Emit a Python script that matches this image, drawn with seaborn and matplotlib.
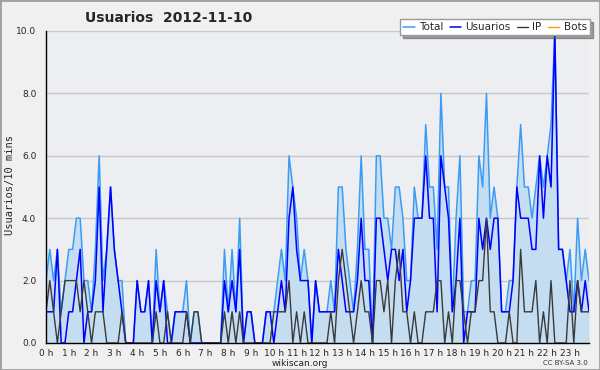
import numpy as np
import pandas as pd
import matplotlib
matplotlib.use("Agg")
import matplotlib.pyplot as plt
import matplotlib.ticker as mticker
from matplotlib.patches import Rectangle
import seaborn as sns

# 10-minute slots for 2012-11-10 (144 values per series)
usuarios = [1, 1, 1, 3, 0, 0, 1, 1, 2, 3, 0, 1,
            1, 2, 5, 1, 3, 5, 3, 2, 1, 0, 0, 0,
            2, 1, 1, 2, 0, 2, 1, 2, 0, 0, 1, 1,
            1, 1, 0, 0, 0, 0, 0, 0, 0, 0, 0, 2,
            1, 2, 1, 3, 0, 1, 1, 0, 0, 0, 1, 1,
            0, 1, 2, 1, 4, 5, 3, 2, 2, 2, 0, 2,
            1, 1, 1, 1, 1, 3, 2, 1, 1, 1, 2, 4,
            2, 2, 0, 4, 4, 3, 2, 3, 3, 2, 3, 1,
            2, 4, 4, 4, 6, 4, 4, 1, 6, 5, 4, 1,
            2, 4, 0, 1, 1, 1, 4, 3, 4, 3, 4, 4,
            1, 1, 1, 2, 5, 4, 4, 4, 3, 3, 6, 4,
            6, 5, 10, 3, 3, 2, 1, 1, 2, 1, 2, 1]
ip = [1, 2, 1, 0, 1, 2, 2, 2, 2, 1, 2, 1,
      0, 1, 1, 1, 0, 0, 0, 0, 1, 0, 0, 0,
      0, 0, 0, 0, 0, 1, 0, 0, 1, 0, 0, 0,
      0, 1, 0, 1, 1, 0, 0, 0, 0, 0, 0, 1,
      0, 1, 0, 1, 0, 0, 0, 0, 0, 0, 0, 0,
      1, 1, 1, 1, 2, 0, 1, 0, 1, 0, 0, 0,
      0, 0, 0, 1, 0, 2, 3, 2, 1, 0, 1, 2,
      1, 1, 0, 2, 2, 1, 2, 0, 2, 3, 1, 1,
      0, 1, 0, 0, 1, 1, 1, 2, 2, 0, 1, 0,
      2, 2, 1, 0, 1, 1, 2, 2, 4, 1, 1, 0,
      0, 0, 1, 0, 0, 3, 1, 1, 1, 2, 0, 1,
      0, 2, 0, 0, 0, 0, 2, 0, 2, 1, 1, 1]
total = [2, 3, 2, 3, 1, 2, 3, 3, 4, 4, 2, 2,
         1, 3, 6, 2, 3, 5, 3, 2, 2, 0, 0, 0,
         2, 1, 1, 2, 0, 3, 1, 2, 1, 0, 1, 1,
         1, 2, 0, 1, 1, 0, 0, 0, 0, 0, 0, 3,
         1, 3, 1, 4, 0, 1, 1, 0, 0, 0, 1, 1,
         1, 2, 3, 2, 6, 5, 4, 2, 3, 2, 0, 2,
         1, 1, 1, 2, 1, 5, 5, 3, 2, 1, 3, 6,
         3, 3, 0, 6, 6, 4, 4, 3, 5, 5, 4, 2,
         2, 5, 4, 4, 7, 5, 5, 3, 8, 5, 5, 1,
         4, 6, 1, 1, 2, 2, 6, 5, 8, 4, 5, 4,
         1, 1, 2, 2, 5, 7, 5, 5, 4, 5, 6, 5,
         6, 7, 10, 3, 3, 2, 3, 1, 4, 2, 3, 2]
bots = [0] * 144

hours = np.arange(len(total)) / 6.0
hour_labels = [f"{h} h" for h in range(24)]

df = pd.DataFrame({"hora": hours, "Total": total, "Usuarios": usuarios,
                   "IP": ip, "Bots": bots})

sns.set_style("white")
plt.rcParams["font.family"] = ["DejaVu Sans"]

fig = plt.figure(figsize=(6, 3.7), dpi=100, facecolor="#f0f0f0")
ax = fig.add_axes([46 / 600, 27 / 370, 543 / 600, 312 / 370])
ax.set_facecolor("#eceef1")

ax.fill_between(df["hora"], df["Total"], 0, color="#c5ddf0", lw=0, zorder=1)
sns.lineplot(data=df, x="hora", y="Bots", color="#ff9900", lw=1, ax=ax,
             label="Bots", zorder=0.5, legend=False)
sns.lineplot(data=df, x="hora", y="Total", color="#3b9cf5", lw=1.1, ax=ax,
             label="Total", zorder=3, legend=False)
sns.lineplot(data=df, x="hora", y="Usuarios", color="#0000ff", lw=1.1, ax=ax,
             label="Usuarios", zorder=4, legend=False)
sns.lineplot(data=df, x="hora", y="IP", color="#3a3a3a", lw=1.0, ax=ax,
             label="IP", zorder=5, legend=False)

ax.set_xlim(0, hours[-1])
ax.set_ylim(0, 10)
ax.xaxis.set_major_locator(mticker.FixedLocator(range(24)))
ax.xaxis.set_major_formatter(mticker.FixedFormatter(hour_labels))
ax.xaxis.set_minor_locator(mticker.MultipleLocator(1 / 6))
ax.yaxis.set_major_locator(mticker.MultipleLocator(2))
ax.yaxis.set_minor_locator(mticker.MultipleLocator(0.5))
ax.yaxis.set_major_formatter(mticker.FormatStrFormatter("%.1f"))
ax.tick_params(axis="y", which="major", direction="out", length=6,
               width=1, color="black", labelsize=6.5, pad=1)
ax.tick_params(axis="x", which="major", direction="out", length=4,
               width=1, color="black", labelsize=6.5, pad=0)
ax.tick_params(axis="both", which="minor", direction="out", length=2.5,
               width=1, color="black")
ax.grid(axis="y", which="major", color="#c8c8c8", lw=1, zorder=0)
ax.set_axisbelow(True)
for side in ["top", "right"]:
    ax.spines[side].set_visible(False)
for side in ["left", "bottom"]:
    ax.spines[side].set_color("black")
    ax.spines[side].set_linewidth(1)
    ax.spines[side].set_zorder(6)

ax.set_xlabel("")
ax.set_ylabel("")
fig.text(300 / 600, 1 - 363 / 370, "wikiscan.org", fontsize=6.5, ha="center",
         va="center", color="#222222")
fig.text(10 / 600, 1 - 185 / 370, "Usuarios/10 mins", fontsize=7.5,
         family="DejaVu Sans Mono", rotation=90, ha="center", va="center")

# legend order as in the reference
handles, labels = ax.get_legend_handles_labels()
order = [labels.index(n) for n in ["Total", "Usuarios", "IP", "Bots"]]
leg = fig.legend([handles[k] for k in order], [labels[k] for k in order],
                 loc="upper right", bbox_to_anchor=(0.983, 0.948), ncol=4,
                 fontsize=7.5, frameon=True, fancybox=False, shadow=True,
                 handlelength=1.1, handletextpad=0.4, columnspacing=0.6,
                 borderpad=0.3, borderaxespad=0)
leg.get_frame().set_edgecolor("#9a9a9a")
leg.get_frame().set_facecolor("white")

fig.text(0.142, 0.950, "Usuarios  2012-11-10", fontsize=10, fontweight="bold",
         ha="left", va="center")
fig.text(588 / 600, 1 - 363 / 370, "CC BY-SA 3.0", fontsize=5, ha="right",
         va="center", color="#333333")
fig.add_artist(Rectangle((0, 0), 1, 1, transform=fig.transFigure, fill=False,
                         edgecolor="#a0a0a0", lw=2))

fig.savefig("out.png", dpi=100, facecolor=fig.get_facecolor())
